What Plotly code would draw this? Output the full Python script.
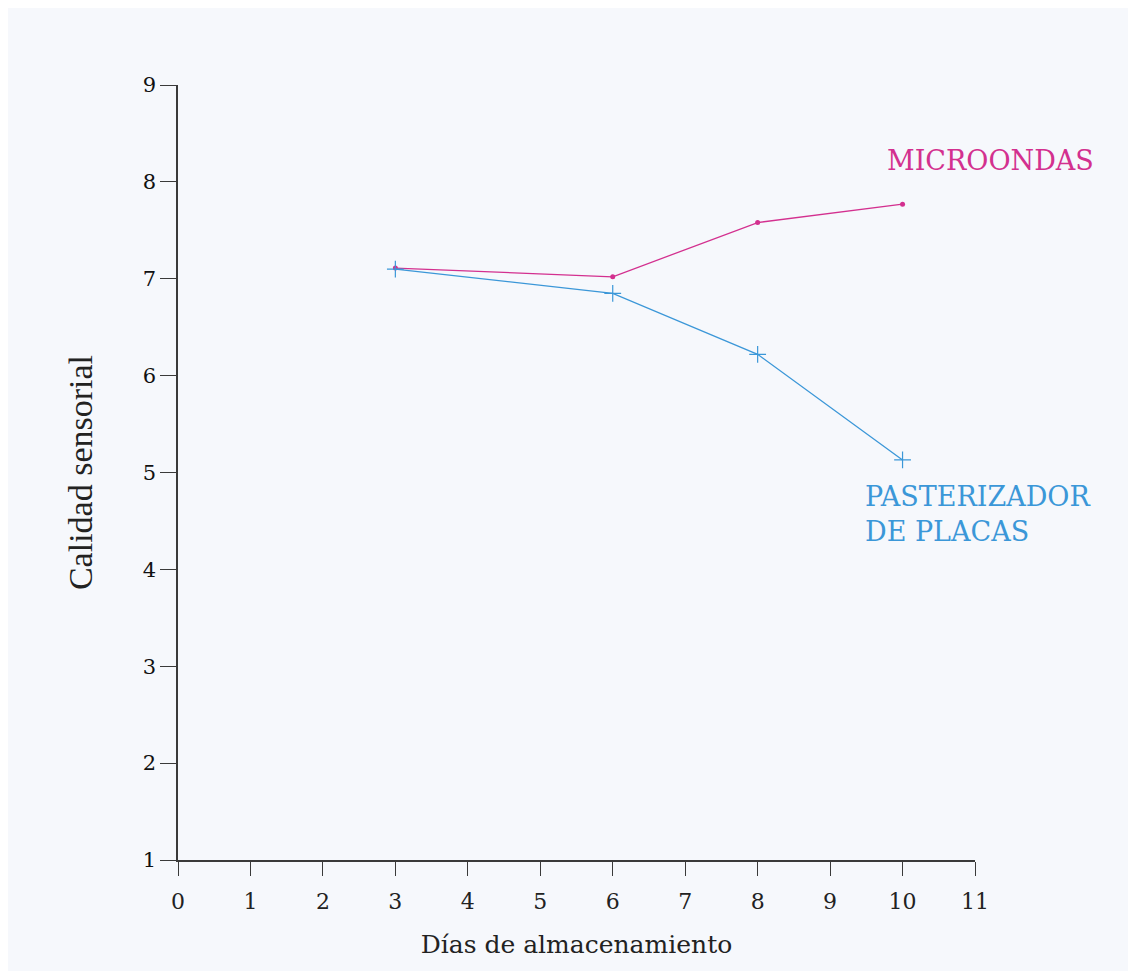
import plotly.graph_objects as go

# Días de almacenamiento
dias = [3, 6, 8, 10]

# Calidad sensorial por tratamiento
microondas = [7.11, 7.02, 7.58, 7.77]
pasterizador = [7.10, 6.85, 6.22, 5.13]

x_ticks = list(range(0, 12))
y_ticks = list(range(1, 10))

MAGENTA = "#d3308f"
BLUE = "#3b97d8"
AXIS = "#3a3a3a"
FONT = "Liberation Serif"
WIDE = "DejaVu Serif"

fig = go.Figure()

fig.add_trace(go.Scatter(
    x=dias, y=microondas, mode="lines+markers", name="MICROONDAS",
    line=dict(color=MAGENTA, width=1.3),
    marker=dict(symbol="circle", size=5, color=MAGENTA),
))
fig.add_trace(go.Scatter(
    x=dias, y=pasterizador, mode="lines+markers", name="PASTERIZADOR DE PLACAS",
    line=dict(color=BLUE, width=1.3),
    marker=dict(symbol="cross-thin-open", size=12, line=dict(color=BLUE, width=1.2)),
))

# labels next to each line
fig.add_annotation(x=10, y=microondas[-1], text="MICROONDAS", showarrow=False,
                   xanchor="center", yanchor="middle", xshift=88, yshift=44,
                   font=dict(family=WIDE, size=27, color=MAGENTA))
fig.add_annotation(x=10, y=pasterizador[-1], text="PASTERIZADOR<br>DE PLACAS", showarrow=False,
                   xanchor="left", yanchor="top", xshift=-40, yshift=-19, align="left",
                   font=dict(family=WIDE, size=27, color=BLUE))

# page body has an 8px margin, so the figure is 16px smaller than the window
fig.update_layout(
    width=1120, height=963, autosize=False,
    margin=dict(l=170, r=153, t=77, b=111),
    paper_bgcolor="#f6f8fc", plot_bgcolor="#f6f8fc",
    showlegend=False,
    font=dict(family=FONT, color="#222"),
    xaxis=dict(
        range=[0, 11], tickvals=x_ticks, showgrid=False, zeroline=False,
        showline=True, linecolor=AXIS, linewidth=1.5,
        ticks="outside", ticklen=14, tickcolor=AXIS, ticklabelstandoff=7,
        tickfont=dict(size=22, family=WIDE, color="#222"),
        title=dict(text="Días de almacenamiento", font=dict(size=25, family=WIDE), standoff=22),
    ),
    yaxis=dict(
        range=[1, 9], tickvals=y_ticks, showgrid=False, zeroline=False,
        showline=True, linecolor=AXIS, linewidth=1.5,
        ticks="outside", ticklen=16, tickcolor=AXIS,
        tickfont=dict(size=21, family=WIDE, color="#111"),
        title=dict(text="Calidad sensorial", font=dict(size=34, family=FONT), standoff=40),
    ),
)

fig.write_html("out.html")
